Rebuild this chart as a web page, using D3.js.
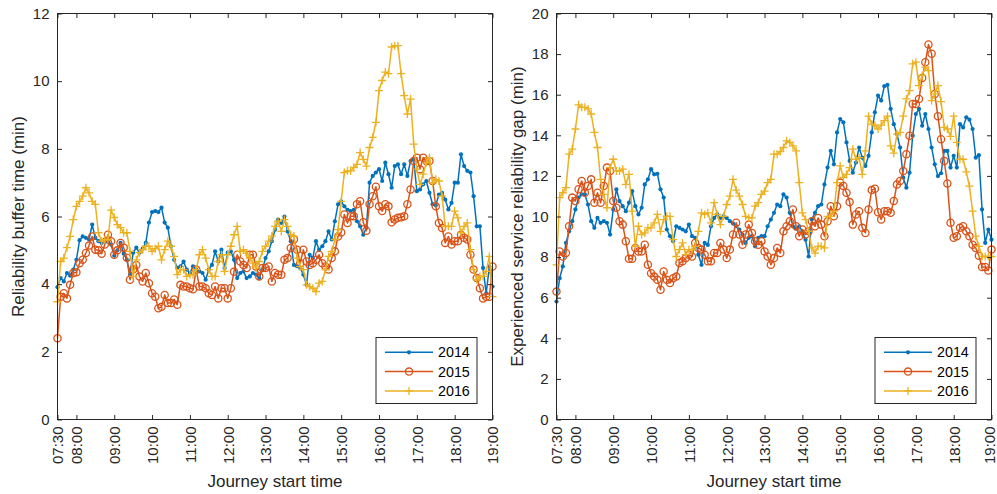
<!DOCTYPE html>
<html>
<head>
<meta charset="utf-8">
<script src="https://cdn.jsdelivr.net/npm/d3@7"></script>
<style>
  body { margin: 0; background: #fff; }
  svg { display: block; font-family: "Liberation Sans", Arial, Helvetica, sans-serif; }
</style>
</head>
<body>
<svg id="fig" width="997" height="494"></svg>
<script>
// ---- data ---------------------------------------------------------------
const years = ["2014", "2015", "2016"];
const seriesColors = ["#0072BD", "#D95319", "#EDB120"];

// journey start times: every 5 minutes from 07:30 to 19:00 (minutes after midnight)
const firstStart = 450;
const stepMinutes = 5;

const timeTickMinutes = [450, 480, 540, 600, 660, 720, 780, 840, 900, 960, 1020, 1080, 1140];
const timeTickLabels = ["07:30", "08:00", "09:00", "10:00", "11:00", "12:00", "13:00",
                        "14:00", "15:00", "16:00", "17:00", "18:00", "19:00"];

const bufferTicks = [0, 2, 4, 6, 8, 10, 12];
const gapTicks = [0, 2, 4, 6, 8, 10, 12, 14, 16, 18, 20];

// reliability buffer time (min)
const buffer2014 = [3.91, 4.18, 4.08, 4.33, 4.25, 4.43, 4.72, 5.3, 5.41, 5.37, 5.32, 5.76, 5.37, 5.27, 5.22, 5.32, 5.25, 5.17, 4.84, 5.0, 5.22, 4.9, 4.72, 4.28, 4.93, 5.08, 4.93, 5.05, 5.22, 5.82, 6.13, 6.16, 6.13, 6.26, 5.82, 5.67, 5.12, 4.72, 4.48, 4.53, 4.67, 4.43, 4.33, 4.53, 4.43, 4.38,
  4.33, 4.13, 4.43, 4.57, 4.97, 4.67, 5.02, 4.48, 4.93, 4.97, 4.72, 4.18, 4.33, 4.38, 4.18, 4.23, 4.33, 4.28, 4.18, 4.43, 4.77, 4.97, 5.27, 5.61, 5.91, 5.81, 6.0, 5.56, 5.27, 4.57, 4.53, 4.48, 4.28, 3.98, 4.87, 4.77, 5.27, 5.02, 5.12, 5.27, 5.56, 5.32, 5.86, 6.36, 6.45, 6.3, 6.2, 6.16, 6.2, 5.86,
  5.71, 5.46, 5.67, 7.0, 7.2, 7.3, 7.4, 7.05, 7.59, 7.25, 6.85, 7.49, 7.54, 7.25, 7.54, 7.2, 7.64, 7.69, 6.75, 6.8, 6.95, 7.05, 6.7, 6.36, 6.33, 6.65, 6.7, 6.5, 6.21, 6.4, 7.0, 7.0, 7.84, 7.49, 7.35, 7.3, 6.6, 5.71, 5.71, 4.48, 3.73, 4.52, 3.93];
const buffer2015 = [2.4, 3.63, 3.73, 3.58, 3.98, 4.33, 4.35, 4.62, 4.72, 4.92, 5.14, 5.41, 5.02, 5.0, 4.9, 5.17, 5.46, 5.27, 4.87, 5.0, 5.22, 5.08, 4.78, 4.13, 4.43, 4.57, 4.23, 4.08, 4.33, 4.03, 3.73, 3.63, 3.29, 3.33, 3.68, 3.44, 3.44, 3.55, 3.39, 3.98, 3.93, 3.93, 3.88, 3.85, 4.43, 3.93,
  3.93, 3.88, 3.73, 3.68, 3.93, 3.58, 3.88, 3.88, 3.58, 3.88, 4.37, 4.87, 4.67, 4.57, 4.48, 4.87, 4.87, 4.52, 4.23, 4.48, 4.48, 4.52, 4.08, 4.33, 4.28, 4.28, 4.72, 4.77, 5.07, 5.32, 5.02, 4.62, 5.02, 4.67, 4.57, 4.62, 4.72, 4.87, 4.62, 4.52, 4.43, 4.77, 4.97, 5.41,
  5.53, 6.06, 5.81, 6.01, 6.01, 6.36, 6.45, 5.83, 5.58, 6.36, 6.6, 6.88, 6.3, 6.16, 6.36, 6.3, 5.83, 5.91, 5.96, 5.98, 6.01, 6.36, 6.8, 7.64, 7.74, 7.4, 7.74, 7.64, 7.64, 7.05, 6.3, 5.81, 5.66, 5.22, 5.41, 5.17, 5.27, 5.27, 5.46, 5.37, 5.32, 4.87, 4.43, 4.18, 3.88, 3.58, 3.63, 3.63, 4.52];
const buffer2016 = [3.48, 4.67, 4.77, 5.08, 5.41, 5.91, 6.3, 6.45, 6.6, 6.85, 6.7, 6.45, 6.36, 5.52, 5.27, 5.32, 5.32, 6.19, 5.97, 5.76, 5.67, 5.52, 5.52, 4.97, 4.23, 4.72, 4.93, 5.02, 5.12, 5.12, 4.97, 5.05, 5.12, 4.72, 5.02, 5.27, 5.12, 4.82, 4.28, 4.43, 4.43, 4.23, 4.28, 4.28, 4.43, 4.87,
  5.02, 4.77, 4.43, 4.23, 4.23, 4.67, 4.87, 4.38, 4.87, 5.12, 5.46, 5.71, 4.97, 5.02, 4.92, 4.77, 4.62, 4.48, 4.67, 4.97, 5.12, 5.27, 5.42, 5.71, 5.86, 5.56, 5.91, 5.71, 5.47, 5.42, 4.77, 4.52, 4.43, 3.98, 3.93, 3.88, 3.78, 4.03, 4.08, 4.43, 4.82, 4.97, 5.32, 5.61, 6.45, 7.3,
  7.35, 7.35, 7.45, 7.54, 7.89, 7.69, 7.49, 8.04, 8.34, 8.78, 9.72, 10.02, 10.27, 10.22, 11.01, 11.05, 11.05, 10.22, 9.57, 9.03, 9.47, 8.14, 7.4, 6.95, 7.25, 7.59, 7.74, 7.0, 7.1, 7.05, 6.6, 5.71, 5.71, 5.71, 6.16, 5.96, 5.52, 5.71, 5.81, 5.02, 4.43, 4.13, 4.23, 4.23, 4.38, 4.82, 3.63];

// experienced service reliability gap (min)
const gap2014 = [5.81, 6.96, 7.54, 8.7, 9.27, 9.77, 10.35, 10.93, 11.09, 11.09, 10.59, 9.77, 9.44, 9.93, 9.69, 9.77, 9.69, 9.11, 10.35, 11.34, 10.76, 10.51, 10.26, 10.68, 11.25, 10.51, 10.1, 10.43, 11.58, 11.83, 12.33, 12.08, 12.1, 11.34, 10.93, 9.36, 9.03, 8.78, 9.52, 9.44, 9.36, 9.27, 9.6, 9.03, 8.95,
  8.12, 7.62, 8.7, 8.6, 9.52, 9.93, 10.1, 9.93, 10.01, 9.93, 9.77, 9.65, 9.52, 9.36, 9.11, 8.7, 8.95, 9.03, 8.53, 8.95, 9.03, 9.03, 9.52, 9.85, 10.18, 10.59, 10.51, 11.09, 10.93, 10.18, 9.52, 9.4, 9.52, 9.27, 8.86, 8.03, 9.85, 10.18, 10.51, 10.59, 11.58, 12.41, 13.23, 12.57, 14.14, 14.8, 14.64,
  13.65, 12.74, 12.16, 12.66, 13.4, 12.9, 12.49, 12.99, 14.14, 15.13, 15.96, 15.71, 16.42, 16.48, 15.3, 14.55, 14.06, 13.4, 11.92, 11.42, 12.16, 13.98, 15.05, 15.3, 14.47, 15.05, 14.31, 13.4, 12.57, 11.99, 12.13, 13.23, 13.23, 12.41, 12.99, 12.41, 14.55, 14.39, 14.89, 14.77, 14.31, 12.9, 13.02, 10.35, 8.7, 9.36, 8.86];
const gap2015 = [6.3, 8.28, 8.03, 8.2, 9.52, 10.93, 10.76, 11.34, 11.75, 11.17, 11.5, 11.83, 10.68, 11.17, 10.68, 11.5, 12.41, 12.24, 10.76, 10.43, 9.77, 9.6, 8.78, 7.92, 7.92, 8.45, 8.28, 8.28, 8.61, 7.62, 7.21, 7.04, 6.88, 6.39, 7.29, 6.88, 6.72, 6.96, 7.04, 7.71, 7.79, 7.95, 8.12, 8.03, 8.7, 8.45,
  8.37, 8.12, 7.79, 7.79, 8.2, 8.2, 8.7, 8.37, 7.95, 8.37, 9.11, 9.69, 9.11, 8.61, 9.11, 9.6, 9.19, 8.78, 8.61, 8.78, 8.28, 8.03, 7.62, 7.95, 8.45, 8.2, 9.27, 9.52, 9.77, 10.35, 9.52, 9.03, 9.36, 9.11, 9.27, 9.77, 9.52, 9.93, 9.6, 9.03, 9.77, 10.51, 10.01, 10.51,
  11.67, 11.5, 11.17, 10.71, 9.6, 10.1, 10.26, 9.44, 9.19, 10.35, 11.3, 11.37, 10.21, 9.85, 10.26, 10.26, 10.18, 10.76, 11.58, 11.75, 12.24, 13.07, 13.98, 15.54, 15.54, 15.79, 16.82, 17.6, 18.47, 18.02, 16.04, 14.94, 13.81, 12.74, 11.63, 9.69, 8.95, 9.03, 9.44, 9.52, 9.27, 9.03, 8.61, 8.45, 8.07, 7.51, 7.51, 7.34, 8.37];
const gap2016 = [7.62, 10.93, 11.17, 11.42, 13.07, 13.32, 14.31, 15.5, 15.38, 15.38, 15.3, 15.05, 14.14, 13.4, 11.83, 11.09, 10.43, 12.41, 12.82, 12.24, 12.24, 12.33, 11.58, 12.08, 10.26, 8.53, 9.52, 9.11, 9.19, 9.44, 9.44, 9.69, 10.1, 9.27, 9.85, 10.01, 10.01, 8.86, 8.03, 8.37, 8.7, 8.12, 8.37, 8.37, 8.53, 9.27,
  10.18, 10.1, 10.18, 9.69, 10.68, 10.1, 9.6, 10.01, 10.59, 11.0, 11.83, 11.3, 11.0, 10.59, 10.01, 9.93, 9.93, 10.51, 10.68, 11.09, 11.25, 11.67, 11.83, 13.07, 13.07, 13.2, 13.4, 13.73, 13.65, 13.48, 13.23, 11.67, 10.18, 9.85, 9.27, 8.45, 8.2, 8.53, 8.53, 8.45, 10.01, 10.01, 10.26, 11.67,
  12.49, 11.92, 12.08, 12.41, 13.32, 12.82, 12.9, 12.08, 13.23, 14.94, 14.55, 14.5, 14.31, 14.5, 14.72, 14.94, 13.48, 13.12, 14.06, 14.14, 14.94, 15.79, 16.2, 17.52, 17.6, 16.45, 16.95, 17.36, 17.19, 15.71, 16.04, 16.45, 15.66, 14.39, 14.31, 13.95, 14.94, 13.65, 12.82, 12.82, 12.2, 11.5, 10.26, 9.03, 8.53, 8.03, 8.03, 8.03, 8.03];

// ---- drawing --------------------------------------------------------------
const axisColor = "#262626";
const svg = d3.select("#fig");

const panels = [
  { left: 57.5, right: 492.5, top: 13.5, bottom: 419.5, yMax: 12, yTicks: bufferTicks,
    yLabel: "Reliability buffer time (min)", yLabelX: 18,
    series: [buffer2014, buffer2015, buffer2016] },
  { left: 556.5, right: 991.5, top: 13.5, bottom: 419.5, yMax: 20, yTicks: gapTicks,
    yLabel: "Experienced service reliability gap (min)", yLabelX: 517,
    series: [gap2014, gap2015, gap2016] }
];

function drawMarker(g, k, cx, cy, color) {
  if (k === 0) {
    g.append("circle").attr("cx", cx).attr("cy", cy).attr("r", 2.1).attr("fill", color);
  } else if (k === 1) {
    g.append("circle").attr("cx", cx).attr("cy", cy).attr("r", 3.6)
      .attr("fill", "none").attr("stroke", color).attr("stroke-width", 1.3);
  } else {
    g.append("path").attr("d", `M${cx - 4},${cy}H${cx + 4}M${cx},${cy - 4}V${cy + 4}`)
      .attr("stroke", color).attr("stroke-width", 1.3).attr("fill", "none");
  }
}

panels.forEach(p => {
  const x = d3.scaleLinear().domain([timeTickMinutes[0], timeTickMinutes[timeTickMinutes.length - 1]])
    .range([p.left, p.right]);
  const y = d3.scaleLinear().domain([0, p.yMax]).range([p.bottom, p.top]);
  const g = svg.append("g");

  // series lines and markers
  p.series.forEach((vals, k) => {
    const pts = vals.map((v, i) => [firstStart + i * stepMinutes, v]);
    const color = seriesColors[k];
    g.append("path")
      .attr("d", d3.line().x(d => x(d[0])).y(d => y(d[1]))(pts))
      .attr("fill", "none").attr("stroke", color).attr("stroke-width", 1.5)
      .attr("stroke-linejoin", "round");
    const mg = g.append("g");
    pts.forEach(d => drawMarker(mg, k, x(d[0]), y(d[1]), color));
  });

  // frame
  g.append("rect").attr("x", p.left).attr("y", p.top)
    .attr("width", p.right - p.left).attr("height", p.bottom - p.top)
    .attr("fill", "none").attr("stroke", axisColor).attr("stroke-width", 1);

  // y axis (inward ticks left and right)
  const yAxis = d3.axisLeft(y).tickValues(p.yTicks).tickSize(-4.5).tickPadding(8).tickFormat(d3.format("d"));
  const ya = g.append("g").attr("transform", `translate(${p.left},0)`).call(yAxis);
  const yAxisR = d3.axisRight(y).tickValues(p.yTicks).tickSize(-4.5).tickFormat("");
  const yr = g.append("g").attr("transform", `translate(${p.right},0)`).call(yAxisR);

  // x axis (inward ticks bottom and top), rotated time labels
  const xAxis = d3.axisBottom(x).tickValues(timeTickMinutes).tickSize(-4.5)
    .tickFormat((d, i) => timeTickLabels[i]);
  const xa = g.append("g").attr("transform", `translate(0,${p.bottom})`).call(xAxis);
  const xAxisT = d3.axisTop(x).tickValues(timeTickMinutes).tickSize(-4.5).tickFormat("");
  const xt = g.append("g").attr("transform", `translate(0,${p.top})`).call(xAxisT);

  [ya, yr, xa, xt].forEach(a => {
    a.select(".domain").remove();
    a.selectAll(".tick line").attr("stroke", axisColor);
    a.selectAll(".tick text").attr("fill", axisColor).style("font-size", "15px")
      .style("font-family", "'Liberation Sans', Arial, sans-serif");
  });
  const lastTick = timeTickMinutes.length - 1;
  xa.selectAll(".tick text")
    .attr("transform", "rotate(-90)")
    .attr("x", -7).attr("y", 0)
    // keep the last label inside the figure's right edge
    .attr("dy", (d, i) => (p.right > 900 && i === lastTick) ? "0.17em" : "0.36em")
    .style("text-anchor", "end");

  // axis titles
  g.append("text").attr("x", (p.left + p.right) / 2).attr("y", 487)
    .attr("text-anchor", "middle").attr("fill", axisColor).style("font-size", "17px")
    .text("Journey start time");
  g.append("text").attr("transform", `translate(${p.yLabelX},${(p.top + p.bottom) / 2}) rotate(-90)`)
    .attr("text-anchor", "middle").attr("dy", "0.35em").attr("fill", axisColor).style("font-size", "17px")
    .text(p.yLabel);

  // legend
  const lx = p.right - 116.5, ly = 337.5, lw = 101, lh = 66;
  const lg = g.append("g");
  lg.append("rect").attr("x", lx).attr("y", ly).attr("width", lw).attr("height", lh)
    .attr("fill", "#fff").attr("stroke", axisColor).attr("stroke-width", 1);
  years.forEach((yr, k) => {
    const ry = ly + 14.8 + k * 19.3;
    lg.append("line").attr("x1", lx + 9).attr("x2", lx + 57).attr("y1", ry).attr("y2", ry)
      .attr("stroke", seriesColors[k]).attr("stroke-width", 1.5);
    drawMarker(lg, k, lx + 33, ry, seriesColors[k]);
    lg.append("text").attr("x", lx + 62).attr("y", ry).attr("dy", "0.36em")
      .attr("fill", "#000").style("font-size", "14.3px").text(yr);
  });
});
</script>
</body>
</html>
